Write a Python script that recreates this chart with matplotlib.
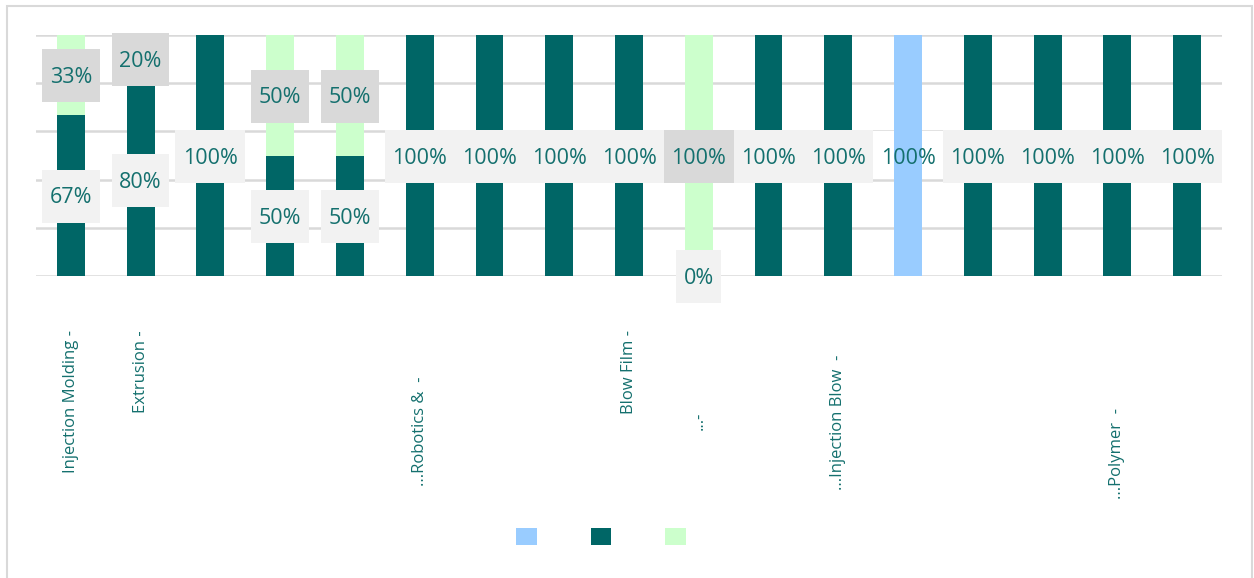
import numpy as np
import matplotlib
matplotlib.use('Agg')
import matplotlib.pyplot as plt
from matplotlib.patches import Patch, Rectangle
from matplotlib.path import Path
import matplotlib.transforms as mtransforms

plt.rcParams['font.family'] = ['Open Sans', 'DejaVu Sans']

# category tick labels (only some are shown in the source chart)
categories = ['Injection Molding -', 'Extrusion -', '', '', '', '...Robotics &  -',
              '', '', 'Blow Film -', '...-', '', '...Injection Blow  -', '', '',
              '', '...Polymer  -', '']
# where each rotated label ends (top), in pixels from the figure top
label_tops = [330, 330, 0, 0, 0, 377, 0, 0, 330, 412, 0, 355, 0, 0, 0, 408, 0]

# percent shares per category
blue = [0, 0, 0, 0, 0, 0, 0, 0, 0, 0, 0, 0, 100, 0, 0, 0, 0]
teal = [67, 80, 100, 50, 50, 100, 100, 100, 100, 0, 100, 100, 0, 100, 100, 100, 100]
green = [33, 20, 0, 50, 50, 0, 0, 0, 0, 100, 0, 0, 0, 0, 0, 0, 0]

c_blue = '#99ccff'
c_teal = '#006666'
c_green = '#ccffcc'
txt_col = '#14706e'

W, H = 1254, 578
fig = plt.figure(figsize=(W / 100, H / 100), dpi=100)
ax = fig.add_axes([36 / W, (H - 276) / H, 1186 / W, 241 / H])

x = np.arange(len(categories))
bw = 0.4
ax.bar(x, blue, bw, color=c_blue, zorder=3)
ax.bar(x, teal, bw, bottom=blue, color=c_teal, zorder=3)
ax.bar(x, green, bw, bottom=np.array(blue) + np.array(teal), color=c_green, zorder=3)

ax.set_xlim(-0.5, len(categories) - 0.5)
ax.set_ylim(0, 100)
ax.set_yticks([0, 20, 40, 60, 80, 100])
ax.yaxis.grid(True, color='#d9d9d9', lw=1.8, zorder=0)
ax.set_axisbelow(True)
ax.tick_params(left=False, bottom=False, labelleft=False, labelbottom=False)
for s in ax.spines.values():
    s.set_visible(False)

FS = 15.5


def label_box(x0, y0, width, height, mutation_size):
    px = 0.35 * mutation_size
    cy = y0 + height / 2 + 0.08 * mutation_size
    hh = 1.23 * mutation_size
    verts = [(x0 - px, cy - hh), (x0 + width + px, cy - hh),
             (x0 + width + px, cy + hh), (x0 - px, cy + hh), (x0 - px, cy - hh)]
    return Path(verts, closed=True)


def put_label(xi, yc, val, face, z):
    ax.text(xi, yc, f'{val}%', ha='center', va='center_baseline', fontsize=FS,
            color=txt_col, zorder=z,
            bbox=dict(boxstyle=label_box, fc=face, ec='none'))


for i in range(len(categories)):
    b, t, g = blue[i], teal[i], green[i]
    if b > 0:
        # white box sits behind the bar, text on top
        ax.add_patch(Rectangle((i - 0.5, 40.5), 1.0, (180 - 133) / 241 * 100,
                               fc='white', ec='none', zorder=2))
        ax.text(i, b / 2, f'{b}%', ha='center', va='center_baseline', fontsize=FS,
                color=txt_col, zorder=6)
    else:
        put_label(i, b + t / 2, t, '#f2f2f2', 5)
    if g > 0:
        put_label(i, b + t + g / 2, g, '#d9d9d9', 7)

# rotated category labels
trans = mtransforms.blended_transform_factory(ax.transData, fig.transFigure)
for i, lab in enumerate(categories):
    if lab:
        ax.text(i, 1 - label_tops[i] / H, lab, rotation=90, ha='center', va='top',
                fontsize=12, color=txt_col, transform=trans)

# legend: colour squares only
handles = [Patch(fc=c_blue), Patch(fc=c_teal), Patch(fc=c_green)]
fig.legend(handles, ['', '', ''], ncol=3, loc='center', bbox_to_anchor=(601 / W, 1 - 537 / H),
           frameon=False, fontsize=10, handlelength=1.5, handleheight=1.5,
           handletextpad=0, columnspacing=3.85)

# outer frame
fig.patches.append(Rectangle((7 / W, -0.05), (1252 - 7) / W, 1.05 - 6 / H,
                             transform=fig.transFigure, fill=False,
                             ec='#d9d9d9', lw=1.5))

fig.savefig('out.png', dpi=100)
